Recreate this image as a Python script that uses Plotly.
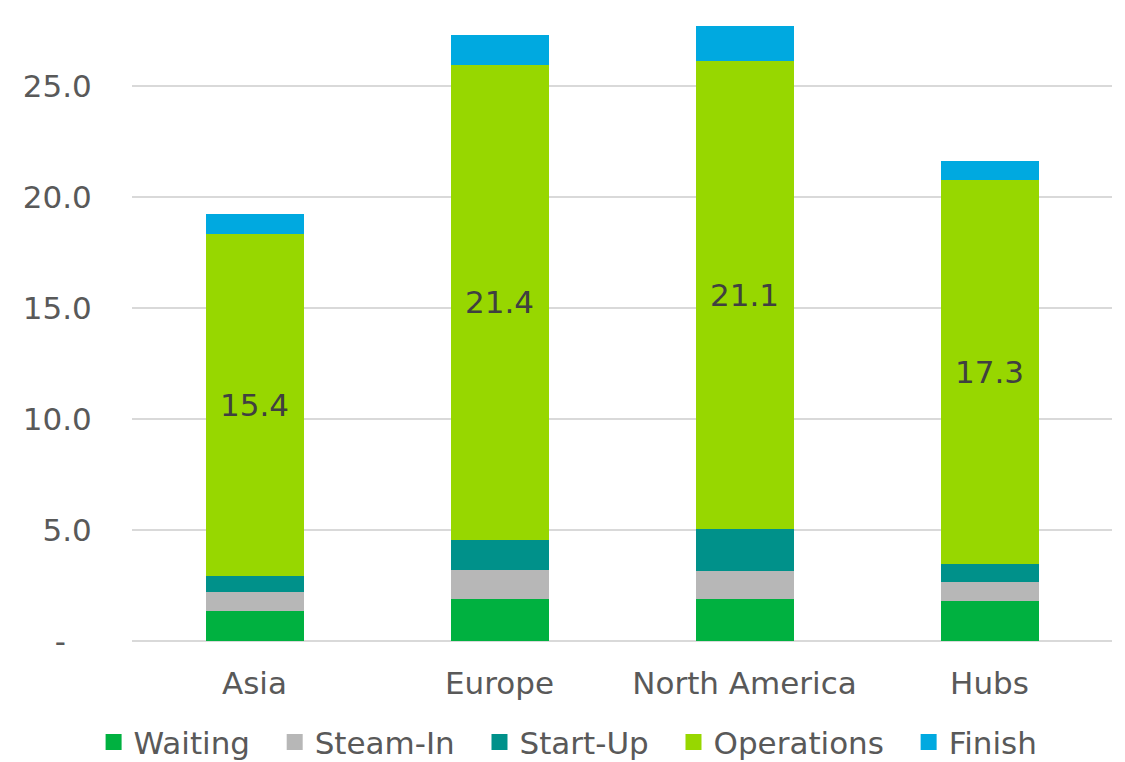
import plotly.graph_objects as go

# Stacked duration breakdown by region
regions = ["Asia", "Europe", "North America", "Hubs"]
waiting = [1.35, 1.91, 1.89, 1.80]
steam_in = [0.86, 1.29, 1.28, 0.84]
start_up = [0.72, 1.36, 1.88, 0.84]
operations = [15.4, 21.4, 21.1, 17.3]
finish = [0.92, 1.34, 1.56, 0.86]

series = [
    ("Waiting", waiting, "#00B140"),
    ("Steam-In", steam_in, "#B7B7B7"),
    ("Start-Up", start_up, "#00918A"),
    ("Operations", operations, "#97D700"),
    ("Finish", finish, "#00A9E0"),
]

tick_vals = [0, 5, 10, 15, 20, 25]
# zero shown accounting-style as a dash, set in from the right edge
tick_text = ["-\u2007\u2009", "5.0", "10.0", "15.0", "20.0", "25.0"]

FONT = "DejaVu Sans"
SIZE = 31
GREY = "#595959"
PAD = "\u00a0\u00a0"  # extra spacing between legend entries

fig = go.Figure()
for name, vals, color in series:
    show_text = name == "Operations"
    fig.add_trace(go.Bar(
        name=name,
        x=regions,
        y=vals,
        marker=dict(color=color, line=dict(width=0)),
        text=[f"{v:.1f}" for v in vals] if show_text else None,
        textposition="inside" if show_text else "none",
        insidetextanchor="middle",
        textfont=dict(family=FONT, size=SIZE, color="#404040"),
        showlegend=False,
        hoverinfo="skip",
    ))

# Legend keys: larger square swatches than the default bar icon
for i, (name, vals, color) in enumerate(series):
    label = name + (PAD if i < len(series) - 1 else "")
    fig.add_trace(go.Scatter(
        name=label,
        x=[None], y=[None],
        mode="markers",
        marker=dict(symbol="square", size=19, color=color),
        showlegend=True,
        hoverinfo="skip",
    ))

fig.update_layout(
    barmode="stack",
    bargap=0.6,
    width=1125,
    height=762,
    margin=dict(l=132, r=13, t=15, b=121, autoexpand=False),
    plot_bgcolor="white",
    paper_bgcolor="white",
    font=dict(family=FONT, size=SIZE, color=GREY),
    legend=dict(
        orientation="h",
        traceorder="normal",
        x=0.445, xanchor="center",
        y=-0.162, yanchor="middle",
        font=dict(family=FONT, size=SIZE, color=GREY),
        itemwidth=30,
        itemsizing="trace",
    ),
)
fig.update_xaxes(
    showgrid=False,
    showline=False,
    ticks="outside",
    ticklen=15,
    tickcolor="rgba(0,0,0,0)",
    tickfont=dict(family=FONT, size=SIZE, color=GREY),
)
fig.update_yaxes(
    range=[0, 28.2],
    tickvals=tick_vals,
    ticktext=tick_text,
    showgrid=True,
    gridcolor="#D9D9D9",
    gridwidth=2,
    zeroline=True,
    zerolinecolor="#D9D9D9",
    zerolinewidth=2,
    showline=False,
    ticks="outside",
    ticklen=33,
    tickcolor="rgba(0,0,0,0)",
    tickfont=dict(family=FONT, size=SIZE, color=GREY),
)

fig.write_html("out.html")
